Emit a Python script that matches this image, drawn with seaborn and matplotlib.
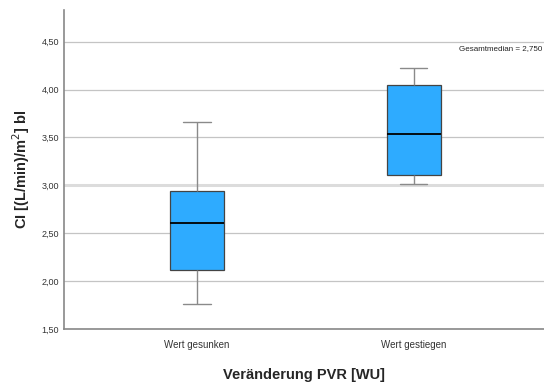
import seaborn as sns
import pandas as pd
import matplotlib.pyplot as plt
from matplotlib.ticker import FuncFormatter

# -----------------------------------------------------------------------------
# Data (five-number summaries)
# -----------------------------------------------------------------------------

groups = ["Wert gesunken", "Wert gestiegen"]
gesunken = [1.76, 2.12, 2.61, 2.94, 3.66]
gestiegen = [3.01, 3.11, 3.54, 4.05, 4.22]
y_ticks = [1.5, 2.0, 2.5, 3.0, 3.5, 4.0, 4.5]
reference_line = 3.0
median_label = "Gesamtmedian = 2,750"

df = pd.DataFrame(
    {
        "group": [groups[0]] * len(gesunken) + [groups[1]] * len(gestiegen),
        "value": gesunken + gestiegen,
    }
)

# -----------------------------------------------------------------------------
# Plot
# -----------------------------------------------------------------------------

sns.set_style("white")
plt.rcParams["font.family"] = ["Liberation Sans", "DejaVu Sans"]

fig = plt.figure(figsize=(5.44, 3.85), dpi=100)
ax = fig.add_axes([64 / 544, 56 / 385, 1 - 64 / 544, 319 / 385])

for y in y_ticks:
    ax.axhline(y, color="#c4c4c4", lw=0.9, zorder=0)
ax.axhline(reference_line, color="#dcdcdc", lw=2.2, zorder=0.5)

sns.boxplot(
    data=df,
    x="group",
    y="value",
    order=groups,
    whis=(0, 100),
    width=0.25,
    color="#2eabff",
    saturation=1,
    linecolor="#555555",
    linewidth=0.9,
    boxprops={"edgecolor": "#444444"},
    whiskerprops={"color": "#8a8a8a", "lw": 1.0},
    capprops={"color": "#8a8a8a", "lw": 1.0},
    medianprops={"color": "black", "lw": 1.3},
    ax=ax,
)

ax.set_xlim(-0.613, 1.6)
ax.set_ylim(1.5, 4.83)
ax.set_yticks(y_ticks)
ax.yaxis.set_major_formatter(FuncFormatter(lambda v, p: f"{v:.2f}".replace(".", ",")))
ax.tick_params(axis="both", length=0, labelsize=6.5, colors="#333333")
ax.tick_params(axis="x", pad=8, labelsize=7)

ax.text(0.997, 4.43, median_label, fontsize=5.8, color="#222222", va="center",
        ha="right", transform=ax.get_yaxis_transform())

for s in ["top", "right"]:
    ax.spines[s].set_visible(False)
for s in ["left", "bottom"]:
    ax.spines[s].set_color("#888888")
    ax.spines[s].set_linewidth(1.2)

ax.set_xlabel("Veränderung PVR [WU]", fontsize=10.5, fontweight="bold", labelpad=13)
ax.set_ylabel("CI [(L/min)/m$^2$] bl", fontsize=10.5, fontweight="bold", labelpad=7)

fig.savefig("out.png", dpi=100)
